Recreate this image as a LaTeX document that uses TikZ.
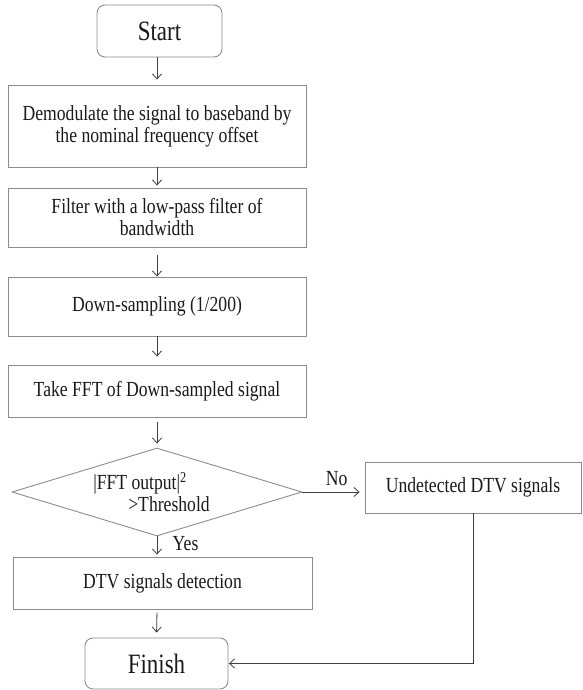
\documentclass[tikz,border=0pt]{standalone}
\usepackage{fontspec}
\setmainfont[FakeStretch=0.82]{Liberation Serif}
\usetikzlibrary{shapes.geometric,arrows.meta}

\begin{document}
\begin{tikzpicture}[x=1pt, y=-1pt,
  every node/.style={font=\fontsize{21.5}{22}\selectfont, text=black!90},
  box/.style={draw=black!45, line width=0.9pt, minimum width=298pt, align=center, inner sep=0pt},
  term/.style={box, rounded corners=8pt, font=\fontsize{28}{32}\selectfont},
  decide/.style={draw=black!45, line width=0.9pt, diamond, aspect=3.3, inner sep=0pt, minimum width=290pt, minimum height=88pt},
  flow/.style={color=black!75, line width=0.8pt, -{Straight Barb[length=5pt,width=9pt]}, shorten >=2pt}]
  \useasboundingbox (0,0) rectangle (582,690);

  \node[term, minimum width=125pt, minimum height=52pt] (start) at (159.5,31) {Start};
  \node[box, minimum height=82pt] (demod) at (157,126) {Demodulate the signal to baseband by\\the nominal frequency offset};
  \node[box, minimum height=59pt] (lpf) at (157,217.5) {Filter with a low-pass filter of\\bandwidth};
  \node[box, minimum height=59pt] (dsamp) at (157,306.5) {Down-sampling (1/200)};
  \node[box, minimum height=52pt] (fft) at (157,391) {Take FFT of Down-sampled signal};
  \node[decide, align=left] (test) at (157,492) {|FFT output|\textsuperscript{2}\\\hspace*{35pt}>Threshold\hspace*{11pt}};
  \node[box, minimum width=216pt, minimum height=51pt] (undet) at (473,487.5) {Undetected DTV signals};
  \node[box, minimum width=299pt, minimum height=52pt] (detect) at (162.5,583) {DTV signals detection};
  \node[term, minimum width=143pt, minimum height=51pt] (finish) at (156.5,663.5) {Finish};

  \path[flow]
  (start.south -| test) edge[shorten >=5pt] (demod.north -| test)
  (demod.south) edge (lpf.north)
  (lpf.south) edge[shorten <=8pt, shorten >=0pt] (dsamp.north)
  (dsamp.south) edge[shorten >=8pt] (fft.north)
  (fft.south) edge[shorten <=5pt, shorten >=4pt] (test.north)
  (test.south) edge node[pos=0.35, right=12pt] {Yes} (detect.north -| test)
  (detect.south -| test) edge[shorten <=3pt, shorten >=5pt] (finish.north)
  (test.east) edge[shorten >=5pt] node[above=3pt, pos=0.55] {No} (test.east -| undet.west)
  ;
  \draw[flow, shorten >=0.5pt] (undet.south) |- (finish.east);
\end{tikzpicture}
\end{document}
